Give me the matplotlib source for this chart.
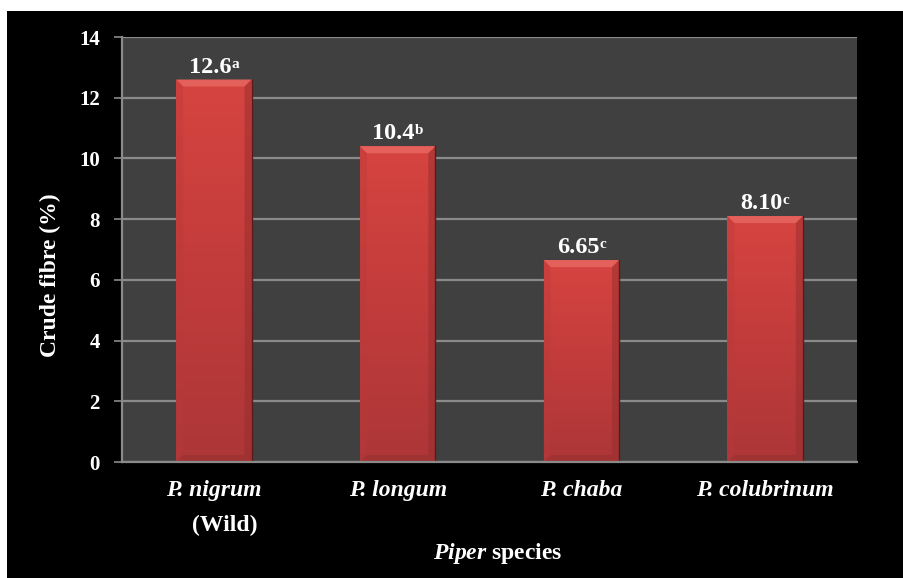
import matplotlib
matplotlib.use("Agg")
import matplotlib.pyplot as plt
import numpy as np
from matplotlib.patches import Rectangle, Polygon
from matplotlib.colors import LinearSegmentedColormap
from matplotlib.transforms import offset_copy

plt.rcParams['font.family'] = ['Liberation Serif', 'DejaVu Serif']
plt.rcParams['mathtext.fontset'] = 'custom'
plt.rcParams['mathtext.rm'] = 'Liberation Serif:bold'
plt.rcParams['mathtext.bf'] = 'Liberation Serif:bold'
plt.rcParams['mathtext.it'] = 'Liberation Serif:italic:bold'

# Data
species = ["P. nigrum", "P. longum", "P. chaba", "P. colubrinum"]
sublabels = ["(Wild)", "", "", ""]
crude_fibre = [12.6, 10.4, 6.65, 8.10]
value_text = ["12.6", "10.4", "6.65", "8.10"]
letters = ["a", "b", "c", "c"]
yticks = [0, 2, 4, 6, 8, 10, 12, 14]

W, H = 904, 578
fig = plt.figure(figsize=(W / 100, H / 100), dpi=100, facecolor="black")
# thin white margins at the left and top of the black panel
for r in [(0, 0, 7 / W, 1), (0, 1 - 11 / H, 1, 11 / H)]:
    fig.patches.append(Rectangle(r[:2], r[2], r[3], transform=fig.transFigure,
                                 facecolor="white", edgecolor="none"))

ax = fig.add_axes([122 / W, 1 - 462 / H, (857 - 122) / W, (462 - 37) / H])
ax.set_facecolor("#404040")
ax.set_xlim(-0.5, len(species) - 0.5)
ax.set_ylim(0, 14)

for sp in ["top", "right"]:
    ax.spines[sp].set_visible(False)
for sp in ["left", "bottom"]:
    ax.spines[sp].set_color("#8a8a8a")
    ax.spines[sp].set_linewidth(1.6)

ax.set_yticks(yticks)
ax.set_yticklabels([str(t) for t in yticks], fontsize=15, fontweight="bold", color="white")
ax.tick_params(axis="y", length=6, width=1.2, color="#8a8a8a", pad=10)
ax.grid(axis="y", color="#8a8a8a", linewidth=1.6)
ax.set_axisbelow(True)

x = np.arange(len(species))
bars = ax.bar(x, crude_fibre, width=0.41, color="#c83c3c", edgecolor="none", zorder=2)

ax.set_xticks(x)
ax.set_xticklabels(species, fontsize=17, fontweight="bold", fontstyle="italic",
                   color="white")
ax.tick_params(axis="x", length=0, pad=13)
for xi, sub in zip(x, sublabels):
    if sub:
        ax.text(xi + 0.06, -2.10, sub, ha="center", va="center", fontsize=17,
                fontweight="bold", color="white", clip_on=False)

ax.set_xlabel(r"$\mathit{Piper}$ species", fontsize=17, fontweight="bold",
              color="white")
ax.xaxis.set_label_coords((498 - 122) / 735, -(553 - 462) / 425)
ax.xaxis.label.set_va("center")
ax.set_ylabel("Crude fibre (%)", fontsize=17, fontweight="bold", color="white")
ax.yaxis.set_label_coords(-(122 - 50) / 735, (462 - 275) / 425)
ax.yaxis.label.set_va("center")

# bevelled gradient fill for each bar
fig.canvas.draw()
inv = ax.transData.inverted()
px = abs(inv.transform((7, 0))[0] - inv.transform((0, 0))[0])
py = abs(inv.transform((0, 7))[1] - inv.transform((0, 0))[1])

body_cmap = LinearSegmentedColormap.from_list("body", ["#ad3637", "#c23c3c", "#d64440"])
grad = np.linspace(0, 1, 256).reshape(-1, 1)
for b in bars:
    x0, w, h = b.get_x(), b.get_width(), b.get_height()
    im = ax.imshow(grad, cmap=body_cmap, extent=[x0, x0 + w, 0, h], origin="lower",
                   aspect="auto", zorder=2.1, interpolation="bicubic")
    im.set_clip_path(b)
    # top bevel
    ax.add_patch(Polygon([(x0, h), (x0 + w, h), (x0 + w - px, h - py), (x0 + px, h - py)],
                         closed=True, facecolor="#e4615b", edgecolor="none", zorder=2.2))
    # left bevel
    ax.add_patch(Polygon([(x0, h), (x0 + px, h - py), (x0 + px, py), (x0, 0)],
                         closed=True, facecolor="#b83a3a", edgecolor="none", zorder=2.2, alpha=0.35))
    # right bevel
    ax.add_patch(Polygon([(x0 + w, h), (x0 + w - px, h - py), (x0 + w - px, py), (x0 + w, 0)],
                         closed=True, facecolor="#952e2e", edgecolor="none", zorder=2.2, alpha=0.5))
    # bottom bevel
    ax.add_patch(Polygon([(x0, 0), (x0 + px, py), (x0 + w - px, py), (x0 + w, 0)],
                         closed=True, facecolor="#9a3030", edgecolor="none", zorder=2.2, alpha=0.6))
    ax.plot([x0 + w, x0 + w], [0, h], color="#5a1a1a", linewidth=1.0, zorder=2.3)

ax.set_xlim(-0.5, len(species) - 0.5)
ax.set_ylim(0, 14)

# value labels with superscript significance letters
renderer = fig.canvas.get_renderer()
for xi, v, t, l in zip(x, crude_fibre, value_text, letters):
    num = ax.text(xi, v, t, ha="left", va="baseline", fontsize=17.5,
                  fontweight="bold", color="white", zorder=3,
                  transform=offset_copy(ax.transData, fig=fig, x=0, y=7, units="dots"))
    sup = ax.text(xi, v, l, ha="left", va="top", fontsize=11,
                  fontweight="bold", color="white", zorder=3)
    wn = num.get_window_extent(renderer).width
    ws = sup.get_window_extent(renderer).width
    gap = 0
    total = wn + ws + gap
    num.set_transform(offset_copy(ax.transData, fig=fig, x=-total / 2, y=7, units="dots"))
    top_px = num.get_window_extent(renderer).y1
    bar_top = ax.transData.transform((xi, v))[1]
    sup.set_transform(offset_copy(ax.transData, fig=fig, x=-total / 2 + wn + gap,
                                  y=top_px - bar_top - 1, units="dots"))

fig.savefig("out.png", dpi=100, facecolor=fig.get_facecolor())
